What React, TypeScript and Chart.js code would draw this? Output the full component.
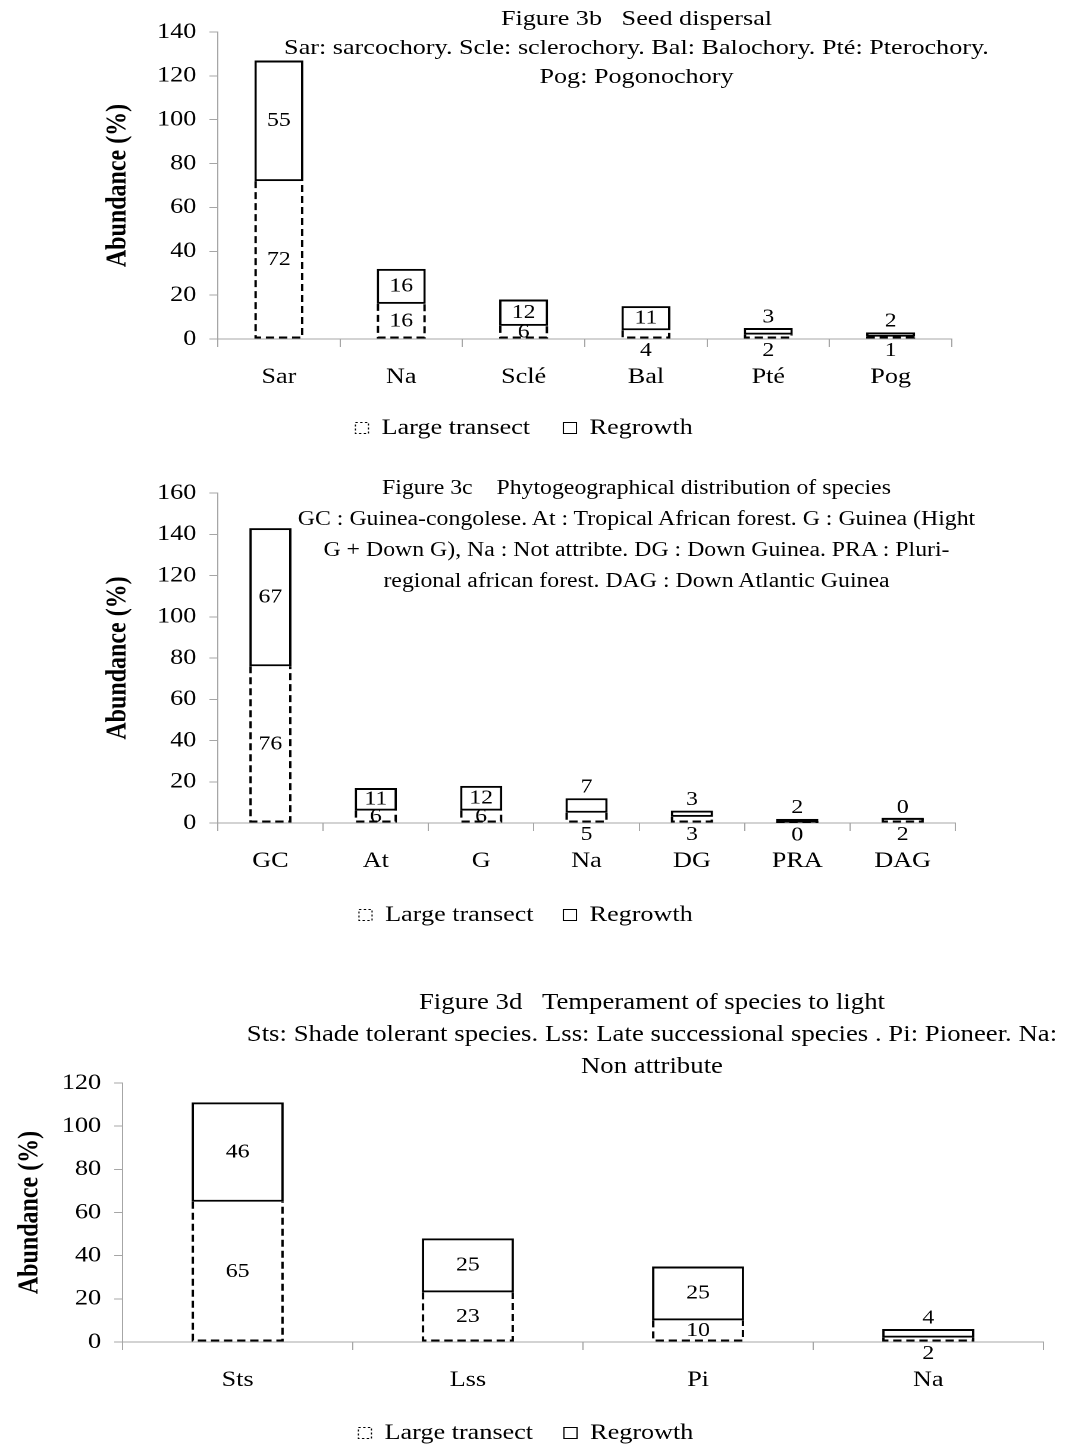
import React, { useEffect, useRef } from 'react';
import { Chart, registerables } from 'chart.js';

Chart.register(...registerables);

const FONT = "'Liberation Serif', 'Times New Roman', serif";
const AXIS_GREY = '#a6a6a6';
// the original figure is horizontally stretched; we draw on a narrower stage and stretch it
const STAGE_W = 896;
const STRETCH = 1066 / STAGE_W;

// ---- Figure 3b data ----
const seedCategories = ['Sar', 'Na', 'Sclé', 'Bal', 'Pté', 'Pog'];
const seedLarge = [72, 16, 6, 4, 2, 1];
const seedRegrowth = [55, 16, 12, 11, 3, 2];
const seedTitle = [
  'Figure 3b   Seed dispersal',
  'Sar: sarcochory. Scle: sclerochory. Bal: Balochory. Pté: Pterochory.',
  'Pog: Pogonochory',
];

// ---- Figure 3c data ----
const phytoCategories = ['GC', 'At', 'G', 'Na', 'DG', 'PRA', 'DAG'];
const phytoLarge = [76, 6, 6, 5, 3, 0, 2];
const phytoRegrowth = [67, 11, 12, 7, 3, 2, 0];
const phytoTitle = [
  'Figure 3c    Phytogeographical distribution of species',
  'GC : Guinea-congolese. At : Tropical African forest. G : Guinea (Hight',
  'G + Down G), Na : Not attribte. DG : Down Guinea. PRA : Pluri-',
  'regional african forest. DAG : Down Atlantic Guinea',
];

// ---- Figure 3d data ----
const lightCategories = ['Sts', 'Lss', 'Pi', 'Na'];
const lightLarge = [65, 23, 10, 2];
const lightRegrowth = [46, 25, 25, 4];
const lightTitle = [
  'Figure 3d   Temperament of species to light',
  'Sts: Shade tolerant species. Lss: Late successional species . Pi: Pioneer. Na:',
  'Non attribute',
];

const seriesNames = ['Large transect', 'Regrowth'];
const yAxisTitle = 'Abundance (%)';

const stackDecor = {
  id: 'stackDecor',
  beforeDatasetsDraw(chart: any) {
    const ctx = chart.ctx;
    const lower = chart.getDatasetMeta(0);
    const upper = chart.getDatasetMeta(1);
    ctx.save();
    ctx.strokeStyle = '#000';
    ctx.lineWidth = 2;
    lower.data.forEach((el: any, j: number) => {
      const { x, y, base, width } = el.getProps(['x', 'y', 'base', 'width'], true);
      const l = x - width / 2 + 1;
      const r = x + width / 2 - 1;
      const top = Math.min(y, base);
      const bottom = Math.max(y, base) - 1;
      ctx.setLineDash([7, 4]);
      ctx.beginPath();
      ctx.moveTo(l, top);
      ctx.lineTo(l, bottom);
      ctx.lineTo(r, bottom);
      ctx.lineTo(r, top);
      ctx.stroke();
      const up = upper.data[j].getProps(['y', 'base'], true);
      if (Math.abs(up.base - up.y) < 1) {
        ctx.setLineDash([]);
        ctx.beginPath();
        ctx.moveTo(l - 1, top);
        ctx.lineTo(r + 1, top);
        ctx.stroke();
      }
    });
    ctx.restore();
  },
  afterDatasetsDraw(chart: any) {
    const ctx = chart.ctx;
    ctx.save();
    ctx.fillStyle = '#000';
    ctx.font = `20px ${FONT}`;
    ctx.textAlign = 'center';
    ctx.textBaseline = 'middle';
    chart.data.datasets.forEach((ds: any, i: number) => {
      const meta = chart.getDatasetMeta(i);
      meta.data.forEach((el: any, j: number) => {
        const { x, y, base } = el.getProps(['x', 'y', 'base'], true);
        const h = Math.abs(base - y);
        let ty;
        if (i === 0) ty = h < 11.5 ? base + 12 : (y + base) / 2;
        else ty = h < 16 ? Math.min(y, base) - 11 : (y + base) / 2;
        ctx.fillText(String(ds.data[j]), x, ty);
      });
    });
    ctx.restore();
  },
};

type Cfg = {
  categories: string[];
  large: number[];
  regrowth: number[];
  max: number;
  top: number;
  height: number;
  pad: { top: number; bottom: number; left: number; right: number };
  yWidth: number;
  xHeight: number;
  legendPad: number;
};

function StackChart({ cfg }: { cfg: Cfg }) {
  const ref = useRef<HTMLCanvasElement | null>(null);
  useEffect(() => {
    if (!ref.current) return;
    const chart = new Chart(ref.current, {
      type: 'bar',
      data: {
        labels: cfg.categories,
        datasets: [
          {
            label: seriesNames[0],
            data: cfg.large,
            backgroundColor: 'rgba(255,255,255,0)',
            borderWidth: 0,
            barPercentage: 1,
            categoryPercentage: 0.4,
          },
          {
            label: seriesNames[1],
            data: cfg.regrowth,
            backgroundColor: '#ffffff',
            borderColor: '#000000',
            borderWidth: 2,
            borderSkipped: false,
            barPercentage: 1,
            categoryPercentage: 0.4,
          },
        ],
      },
      options: {
        animation: false,
        responsive: true,
        maintainAspectRatio: false,
        devicePixelRatio: 2,
        events: [],
        layout: { padding: cfg.pad },
        plugins: {
          tooltip: { enabled: false },
          title: { display: false },
          legend: {
            display: true,
            position: 'bottom',
            labels: {
              boxWidth: 11,
              boxHeight: 11,
              padding: cfg.legendPad,
              color: '#000',
              font: { family: FONT, size: 22 },
              generateLabels: (c: any) =>
                c.data.datasets.map((ds: any, i: number) => ({
                  text: ds.label,
                  fillStyle: '#ffffff',
                  strokeStyle: '#000000',
                  lineWidth: 1,
                  lineDash: i === 0 ? [2, 2] : [],
                  hidden: false,
                  datasetIndex: i,
                  fontColor: '#000',
                })),
            },
          },
        },
        scales: {
          x: {
            stacked: true,
            afterFit: (s: any) => {
              s.height = cfg.xHeight;
            },
            grid: {
              display: true,
              offset: true,
              drawOnChartArea: false,
              drawTicks: true,
              tickLength: 8,
              color: AXIS_GREY,
            },
            border: { display: true, color: AXIS_GREY },
            ticks: {
              color: '#000',
              font: { family: FONT, size: 22 },
              padding: 17,
              maxRotation: 0,
              autoSkip: false,
            },
          },
          y: {
            stacked: true,
            min: 0,
            max: cfg.max,
            afterFit: (s: any) => {
              s.width = cfg.yWidth;
            },
            grid: {
              display: true,
              drawOnChartArea: false,
              drawTicks: true,
              tickLength: 7,
              color: AXIS_GREY,
            },
            border: { display: true, color: AXIS_GREY },
            ticks: {
              stepSize: 20,
              color: '#000',
              font: { family: FONT, size: 22 },
              padding: 11,
            },
            title: {
              display: true,
              text: yAxisTitle,
              color: '#000',
              font: { family: FONT, size: 24, weight: 'bold' },
              padding: { top: 4, bottom: 4 },
            },
          },
        },
      },
      plugins: [stackDecor],
    } as any);
    return () => chart.destroy();
  }, []);
  return (
    <div style={{ position: 'absolute', left: 0, top: cfg.top, width: STAGE_W, height: cfg.height }}>
      <canvas ref={ref} />
    </div>
  );
}

function TitleBlock({ lines, cx, top, lh, size }: { lines: string[]; cx: number; top: number; lh: number; size: number }) {
  return (
    <div
      style={{
        position: 'absolute',
        left: cx - 450,
        width: 900,
        top,
        textAlign: 'center',
        fontFamily: FONT,
        fontSize: size,
        lineHeight: `${lh}px`,
        color: '#000',
        whiteSpace: 'pre',
        pointerEvents: 'none',
      }}
    >
      {lines.map((t, i) => (
        <div key={i}>{t}</div>
      ))}
    </div>
  );
}

const chart1: Cfg = {
  categories: seedCategories,
  large: seedLarge,
  regrowth: seedRegrowth,
  max: 140,
  top: 0,
  height: 450,
  pad: { top: 32, bottom: 1, left: 81, right: 96 },
  yWidth: 102,
  xHeight: 50,
  legendPad: 28,
};

const chart2: Cfg = {
  categories: phytoCategories,
  large: phytoLarge,
  regrowth: phytoRegrowth,
  max: 160,
  top: 460,
  height: 476,
  pad: { top: 33, bottom: 0, left: 81, right: 93 },
  yWidth: 102,
  xHeight: 56,
  legendPad: 25,
};

const chart3: Cfg = {
  categories: lightCategories,
  large: lightLarge,
  regrowth: lightRegrowth,
  max: 120,
  top: 950,
  height: 504,
  pad: { top: 133, bottom: 0, left: 7, right: 19 },
  yWidth: 96,
  xHeight: 54,
  legendPad: 26,
};

export default function App() {
  return (
    <div style={{ position: 'absolute', left: 0, top: 0, width: 1066, height: 1450, overflow: 'hidden', background: '#fff' }}>
      <div
        style={{
          position: 'absolute',
          left: 0,
          top: 0,
          width: STAGE_W,
          height: 1450,
          transform: `scaleX(${STRETCH})`,
          transformOrigin: '0 0',
        }}
      >
        <StackChart cfg={chart1} />
        <StackChart cfg={chart2} />
        <StackChart cfg={chart3} />
        <TitleBlock lines={seedTitle} cx={535} top={3} lh={29} size={22} />
        <TitleBlock lines={phytoTitle} cx={535} top={472} lh={31} size={20} />
        <TitleBlock lines={lightTitle} cx={548} top={986} lh={32} size={22.5} />
      </div>
    </div>
  );
}
